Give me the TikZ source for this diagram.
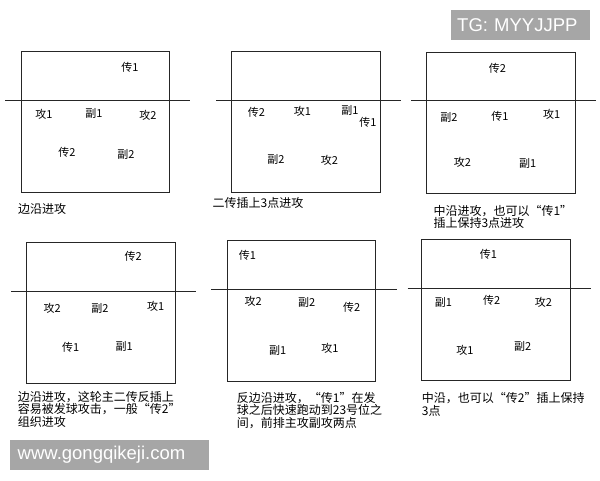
\documentclass[tikz,border=0pt]{standalone}
\usepackage{fontspec}
\setmainfont{Noto Sans CJK SC}
\newfontfamily\tagfont{Liberation Sans}
\definecolor{tagbg}{HTML}{A6A6A6}

\begin{document}
\begin{tikzpicture}[x=1pt, y=-1pt,
  court/.style={draw=black!85, line width=1pt},
  net/.style={draw=black!85, line width=1pt},
  player/.style={font=\fontsize{11}{11}\selectfont, inner sep=0pt},
  caption/.style={font=\fontsize{12}{#1}\selectfont, align=left, anchor=north west, inner sep=0pt},
  tag/.style={fill=tagbg, text=white, font=\tagfont\fontsize{18.5}{18.5}\selectfont, anchor=north west, align=left, inner ysep=0pt, minimum height=30pt}]
\useasboundingbox (0,0) rectangle (600,480);

\draw[court] (21,51) rectangle (169,192);
\draw[net] (5,100) -- (190,100);
\node[player] (A-s1) at (130,67) {传1};
\node[player] (A-o1) at (44,114) {攻1};
\node[player] (A-m1) at (94,113) {副1};
\node[player] (A-o2) at (148,115) {攻2};
\node[player] (A-s2) at (67,152) {传2};
\node[player] (A-m2) at (126,154) {副2};
\node[caption=12] (A-cap) at (18,203) {边沿进攻};

\draw[court] (231,51) rectangle (380,192.5);
\draw[net] (216,100.3) -- (400.5,100.3);
\node[player] (B-s2) at (256.5,112.5) {传2};
\node[player] (B-o1) at (302.5,111.5) {攻1};
\node[player] (B-m1) at (350,110.5) {副1};
\node[player] (B-s1) at (368,122) {传1};
\node[player] (B-m2) at (276,159) {副2};
\node[player] (B-o2) at (329.5,160.5) {攻2};
\node[caption=12] (B-cap) at (212.5,197.5) {二传插上3点进攻};

\draw[court] (426.5,52.3) rectangle (575.3,193.3);
\draw[net] (411,100.7) -- (595.7,100.7);
\node[player] (C-s2) at (497.3,68.3) {传2};
\node[player] (C-m2) at (449,117.3) {副2};
\node[player] (C-s1) at (500,116) {传1};
\node[player] (C-o1) at (551.7,114.3) {攻1};
\node[player] (C-o2) at (462.3,162.3) {攻2};
\node[player] (C-m1) at (527.7,163.3) {副1};
\node[caption=10] (C-cap) at (433.3,205) {中沿进攻，也可以“传1”\\插上保持3点进攻};

\draw[court] (26.7,242.3) rectangle (175.7,383.3);
\draw[net] (11,291) -- (196,291);
\node[player] (D-s2) at (133.3,256) {传2};
\node[player] (D-o2) at (52.3,308.3) {攻2};
\node[player] (D-m2) at (100,308.3) {副2};
\node[player] (D-o1) at (155.7,306.3) {攻1};
\node[player] (D-s1) at (70.7,347.3) {传1};
\node[player] (D-m1) at (124.3,346.7) {副1};
\node[caption=9.5] (D-cap) at (17.7,391) {边沿进攻，这轮主二传反插上\\容易被发球攻击，一般“传2”\\组织进攻};

\draw[court] (227,240.3) rectangle (375.7,381.7);
\draw[net] (211,289.3) -- (396.7,289.3);
\node[player] (E-s1) at (247.3,255) {传1};
\node[player] (E-o2) at (253.3,301.7) {攻2};
\node[player] (E-m2) at (306.7,302.7) {副2};
\node[player] (E-s2) at (351.7,307.7) {传2};
\node[player] (E-m1) at (277.7,350) {副1};
\node[player] (E-o1) at (330,348.3) {攻1};
\node[caption=12.5] (E-cap) at (236.7,392) {反边沿进攻，“传1”在发\\球之后快速跑动到23号位之\\间，前排主攻副攻两点};

\draw[court] (421.7,239.3) rectangle (570,380);
\draw[net] (407.7,288.3) -- (591,288.3);
\node[player] (F-s1) at (488.3,254) {传1};
\node[player] (F-m1) at (443.3,302.7) {副1};
\node[player] (F-s2) at (491.7,300.7) {传2};
\node[player] (F-o2) at (543.3,302.7) {攻2};
\node[player] (F-o1) at (465,350) {攻1};
\node[player] (F-m2) at (522.7,346) {副2};
\node[caption=13] (F-cap) at (421.7,392.5) {中沿，也可以“传2”插上保持\\3点};

\node[tag, text width=127pt, inner xsep=6pt] (tg) at (451,10) {TG: MYYJJPP};
\node[tag, text width=184pt, inner xsep=7.5pt] (site) at (10,440) {www.gongqikeji.com};
\end{tikzpicture}
\end{document}
